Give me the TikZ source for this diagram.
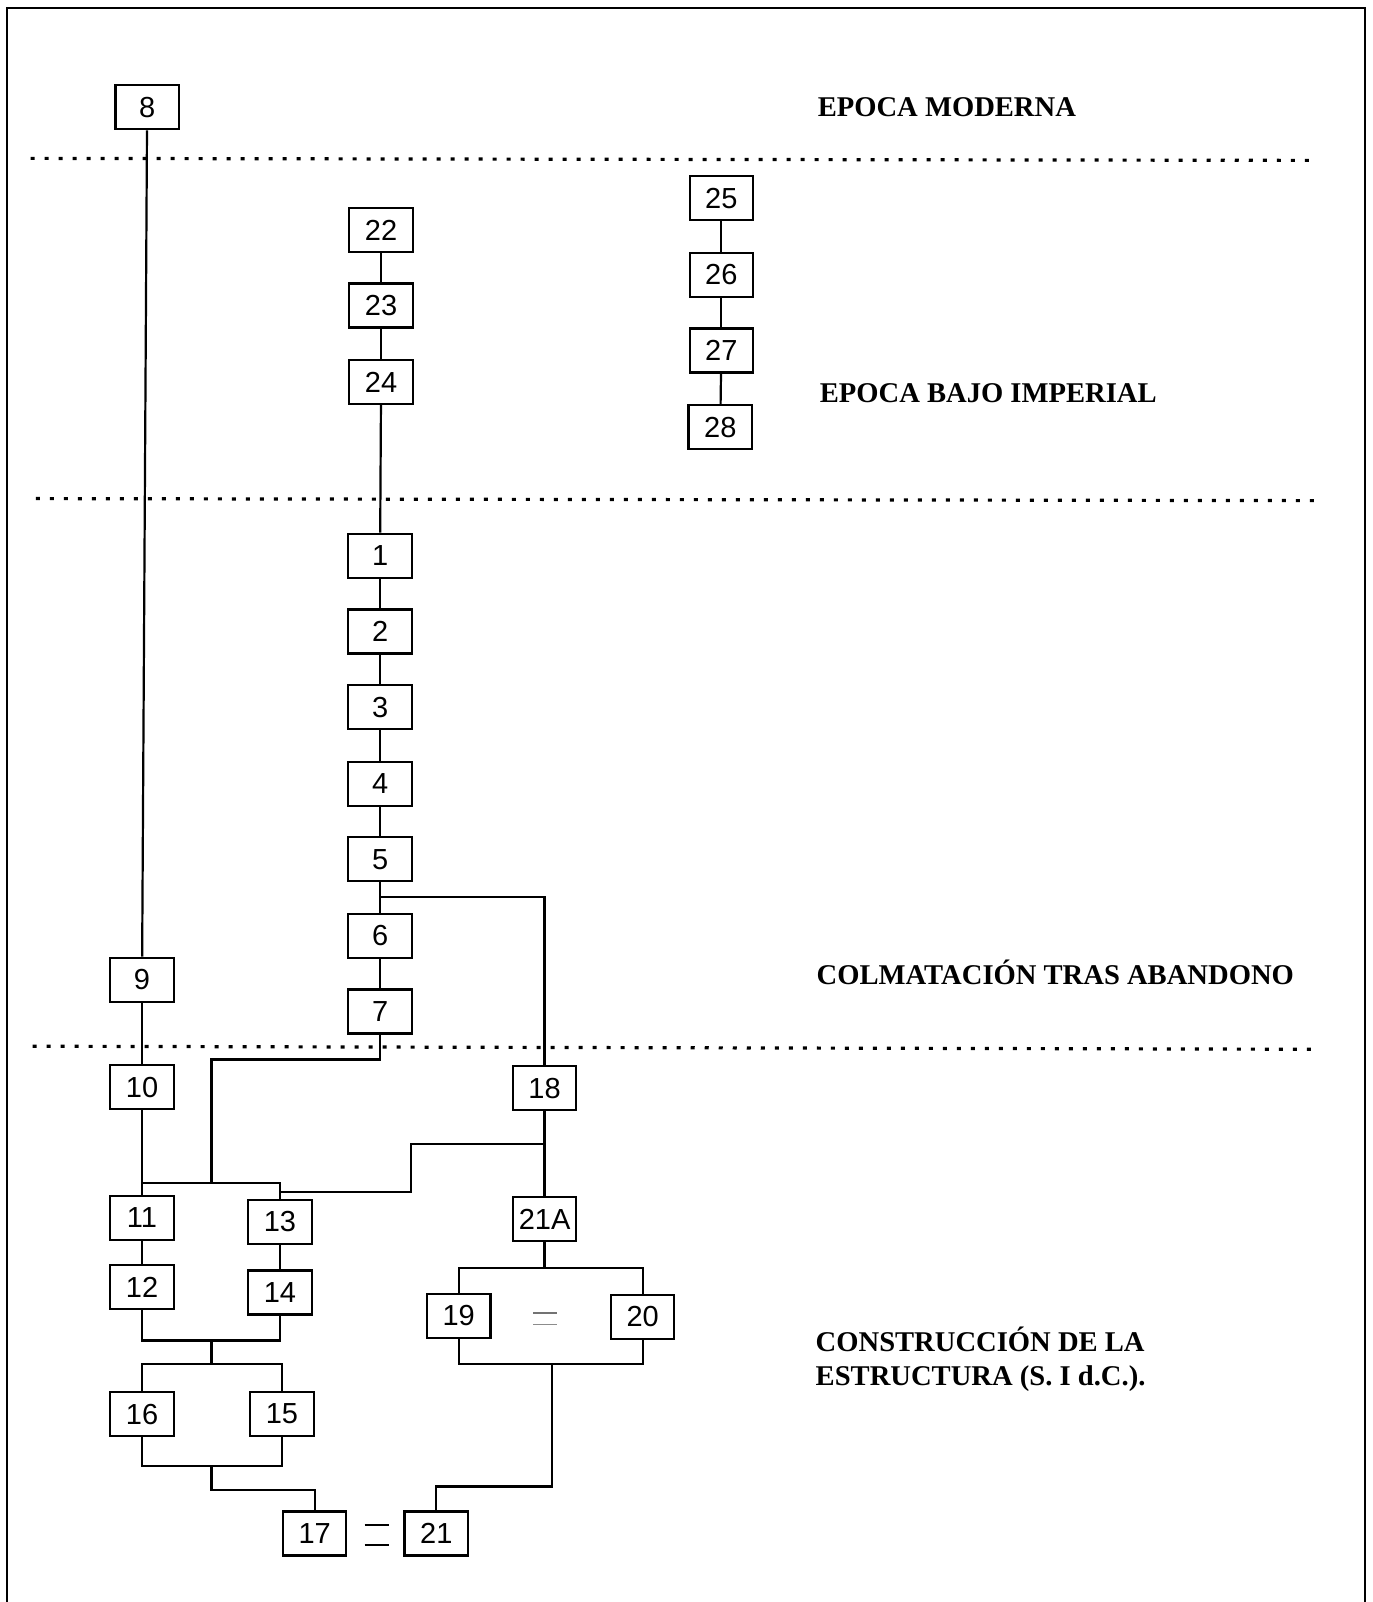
\documentclass[tikz,border=0pt]{standalone}
\usepackage{fontspec}
\setmainfont{Liberation Serif}
\newfontfamily\boxfont{Liberation Sans}
\begin{document}
\begin{tikzpicture}[x=0.5108pt,y=-0.5108pt,
  bx/.style={draw,line width=1.1pt,minimum width=31.7pt,minimum height=22pt,inner sep=0pt,font=\boxfont\fontsize{14.5}{16}\selectfont},
  ln/.style={line width=1.1pt},
  dotline/.style={line width=1.6pt,dash pattern=on 2pt off 5pt},
  lbl/.style={anchor=base west,inner sep=0pt,font=\bfseries\fontsize{14.3}{17}\selectfont}]
\useasboundingbox (0,0) rectangle (1343,1568);
% frame
\draw[line width=1.2pt] (7,1568) -- (7,8) -- (1336,8) -- (1336,1568);
% period separators
\draw[dotline] (30,155) -- (1290,157);
\draw[dotline] (35,488) -- (1288,490);
\draw[dotline] (32,1024) -- (1285,1027);
% labels
\node[lbl] (l1) at (800,114) {EPOCA MODERNA};
\node[lbl] (l2) at (802,394) {EPOCA BAJO IMPERIAL};
\node[lbl] (l3) at (799,964) {COLMATACIÓN TRAS ABANDONO};
\node[lbl] (l4) at (798,1323) {CONSTRUCCIÓN DE LA};
\node[lbl] (l5) at (798,1356) {ESTRUCTURA (S. I d.C.).};
% boxes
\node[bx] (n8) at (144,105) {8};
\node[bx] (n25) at (706,194) {25};
\node[bx] (n26) at (706,269) {26};
\node[bx] (n27) at (706,343) {27};
\node[bx] (n28) at (705,418) {28};
\node[bx] (n22) at (373,225) {22};
\node[bx] (n23) at (373,299) {23};
\node[bx] (n24) at (373,374) {24};
\node[bx] (n1) at (372,544) {1};
\node[bx] (n2) at (372,618) {2};
\node[bx] (n3) at (372,692) {3};
\node[bx] (n4) at (372,767) {4};
\node[bx] (n5) at (372,841) {5};
\node[bx] (n6) at (372,916) {6};
\node[bx] (n7) at (372,990) {7};
\node[bx] (n9) at (139,959) {9};
\node[bx] (n10) at (139,1064) {10};
\node[bx] (n18) at (533,1065) {18};
\node[bx] (n11) at (139,1192) {11};
\node[bx] (n13) at (274,1196) {13};
\node[bx] (n21A) at (533,1193) {21A};
\node[bx] (n12) at (139,1260) {12};
\node[bx] (n14) at (274,1265) {14};
\node[bx] (n19) at (449,1288) {19};
\node[bx] (n20) at (629,1289) {20};
\node[bx] (n16) at (139,1384) {16};
\node[bx] (n15) at (276,1384) {15};
\node[bx] (n17) at (308,1501) {17};
\node[bx] (n21) at (427,1501) {21};
% junction points
\coordinate (j56) at (372,878);
\coordinate (a7) at (207,1037);
\coordinate (j11) at (207,1158);
\coordinate (t11) at (139,1158);
\coordinate (j18) at (533,1120);
\coordinate (m18) at (402,1120);
\coordinate (k13) at (274,1167);
\coordinate (bb1) at (207,1312);
\coordinate (bb2) at (207,1335);
\coordinate (cc1) at (207,1435);
\coordinate (cc2) at (207,1458);
\coordinate (dd1) at (533,1241);
\coordinate (ee1) at (540,1335);
\coordinate (ee2) at (540,1455);
% connectors
\draw[ln] (n8) -- (n9);
\draw[ln] (n9) -- (n10);
\draw[ln] (n10) -- (n11);
\draw[ln] (n22) -- (n23);
\draw[ln] (n23) -- (n24);
\draw[ln] (n24) -- (n1);
\draw[ln] (n1) -- (n2);
\draw[ln] (n2) -- (n3);
\draw[ln] (n3) -- (n4);
\draw[ln] (n4) -- (n5);
\draw[ln] (n5) -- (n6);
\draw[ln] (n6) -- (n7);
\draw[ln] (n25) -- (n26);
\draw[ln] (n26) -- (n27);
\draw[ln] (n27) -- (n28);
\draw[ln] (j56) -| (n18.north);
\draw[ln] (n7.south) |- (a7) -- (j11);
\draw[ln] (t11) -| (n13.north);
\draw[ln] (n18) -- (n21A);
\draw[ln] (j18) -- (m18) |- (k13);
\draw[ln] (n11) -- (n12);
\draw[ln] (n13) -- (n14);
\draw[ln] (n12.south) |- (bb1) -| (n14.south);
\draw[ln] (bb1) -- (bb2);
\draw[ln] (n16.north) |- (bb2) -| (n15.north);
\draw[ln] (n16.south) |- (cc1) -| (n15.south);
\draw[ln] (cc1) -- (cc2) -| (n17.north);
\draw[ln] (n21A.south) -- (dd1);
\draw[ln] (n19.north) |- (dd1) -| (n20.north);
\draw[ln] (n19.south) |- (ee1) -| (n20.south);
\draw[ln] (ee1) -- (ee2) -| (n21.north);
% equal signs
\draw[ln] (357,1493) -- (381,1493);
\draw[ln] (357,1512) -- (381,1512);
\draw[line width=0.8pt,black!55] (522,1285) -- (545,1285);
\draw[line width=0.6pt,black!45] (522,1296) -- (545,1296);
\end{tikzpicture}
\end{document}
